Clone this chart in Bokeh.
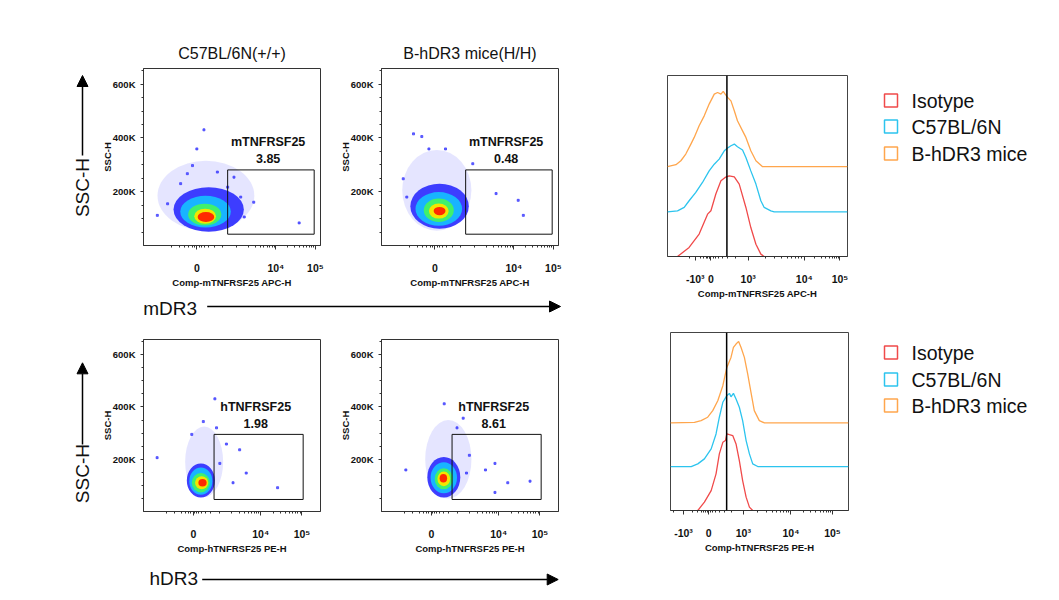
import math
from bokeh.plotting import figure
from bokeh.layouts import row, column
from bokeh.models import Range1d, FixedTicker, Arrow, NormalHead, Span
from bokeh.core.properties import value
from bokeh.embed import file_html
from bokeh.resources import INLINE

FONT = "Liberation Sans"

# ---- labels ----
strains = ["C57BL/6N(+/+)", "B-hDR3 mice(H/H)"]
markers = ["mDR3", "hDR3"]
gate_names = ["mTNFRSF25", "hTNFRSF25"]
x_channels = ["Comp-mTNFRSF25 APC-H", "Comp-hTNFRSF25 PE-H"]
gate_pct = [["3.85", "0.48"], ["1.98", "8.61"]]
groups = ["Isotype", "C57BL/6N", "B-hDR3 mice"]
group_colors = ["#f04a4a", "#2cc4ee", "#ffa64d"]

# ---- dot plot axes (SSC-H in K, x in display channels) ----
ssc_ticks = [200, 400, 600]
ssc_labels = ["200K", "400K", "600K"]
dot_ticks = [[200, 400, 500], [237, 400, 500]]
dot_tick_labels = ["0", "10⁴", "10⁵"]
dot_xrange = [[65, 513], [116, 545]]
gates = [[278, 497, 42, 281], [287, 503, 46, 295]]

# ---- population contours: centre x, centre y, width, height ----
level_colors = ["#b4b4ff", "#2a2aff", "#18b4ff", "#40f06c", "#f2e600", "#ff2a00"]
level_alpha = [0.35, 0.9, 1, 1, 1, 1]
tl_cx = [223, 230, 222, 220, 221, 223]
tl_cy = [185, 134, 126, 115, 109, 106]
tl_w = [245, 178, 128, 84, 55, 42]
tl_h = [260, 165, 118, 81, 56, 37]
tr_cx = [205, 212, 210, 210, 210, 212]
tr_cy = [205, 146, 136, 131, 128, 128]
tr_w = [175, 148, 118, 76, 50, 30]
tr_h = [300, 167, 125, 87, 56, 31]
bl_cx = [263, 255, 255, 255, 257, 259]
bl_cy = [190, 119, 116, 110, 110, 110]
bl_w = [92, 68, 56, 44, 32, 20]
bl_h = [270, 130, 104, 74, 49, 29]
br_cx = [278, 267, 267, 267, 267, 266]
br_cy = [200, 131, 129, 125, 125, 127]
br_w = [112, 80, 64, 44, 31, 18]
br_h = [300, 155, 118, 80, 56, 33]

# scattered events outside the main cloud
tl_out_x = [218, 200, 189, 176, 252, 294, 344, 320, 459, 100, 126, 278, 311, 159]
tl_out_y = [430, 359, 297, 267, 273, 254, 161, 106, 84, 112, 155, 217, 180, 230]
tr_out_x = [146, 167, 185, 227, 120, 355, 411, 424, 296, 278, 129]
tr_out_y = [415, 405, 359, 359, 248, 193, 168, 112, 304, 131, 180]
bl_out_x = [289, 261, 293, 317, 349, 149, 365, 441, 333, 301, 233]
bl_out_y = [431, 344, 320, 258, 236, 206, 147, 91, 110, 184, 295]
br_out_x = [268, 314, 299, 329, 391, 368, 422, 476, 391, 175, 322]
br_out_y = [412, 357, 320, 215, 184, 159, 110, 116, 73, 159, 147]

# ---- histograms (x in display channels, y in % of panel, offset stacked) ----
hist_ticks = [[158, 247, 459, 778, 981], [75, 220, 419, 693, 932]]
hist_tick_labels = ["-10³", "0", "10³", "10⁴", "10⁵"]
cutoff = [338, 323]
iso_m_x = [57, 123, 180, 228, 247, 275, 304, 328, 351, 380, 408, 446, 474, 503, 531, 550]
iso_m_y = [0, 5.0, 12.4, 23.4, 25.3, 34.5, 41.8, 43.7, 44.6, 44.0, 40.0, 27.1, 16.0, 6.8, 1.3, 0]
b6_m_x = [0, 57, 95, 123, 161, 199, 237, 266, 294, 323, 342, 361, 380, 398, 427, 446, 474, 503, 531, 550, 588, 607, 1024]
b6_m_y = [24.7, 25.2, 27.1, 30.8, 35.4, 40.9, 47.3, 51.0, 53.8, 58.4, 59.9, 61.2, 62.1, 60.6, 58.8, 54.7, 47.3, 40.0, 30.8, 27.1, 25.2, 24.7, 24.7]
hdr3_m_x = [0, 48, 76, 104, 133, 152, 180, 209, 237, 266, 285, 304, 317, 328, 342, 361, 380, 398, 427, 446, 474, 503, 541, 1024]
hdr3_m_y = [49.6, 50.7, 52.9, 56.6, 62.1, 65.8, 72.2, 77.7, 84.2, 89.7, 90.6, 89.7, 91.2, 89.7, 87.9, 86.0, 80.5, 75.0, 69.4, 65.8, 58.4, 52.9, 49.6, 49.6]
iso_h_x = [157, 195, 234, 262, 281, 301, 316, 324, 339, 358, 377, 396, 415, 435, 454, 473]
iso_h_y = [0, 4.7, 11.2, 20.6, 31.8, 38.3, 39.3, 43.0, 42.6, 42.1, 37.4, 28.0, 16.8, 7.5, 1.9, 0]
b6_h_x = [0, 119, 157, 195, 234, 262, 281, 301, 324, 339, 348, 362, 377, 396, 415, 435, 454, 473, 502, 1024]
b6_h_y = [24.7, 24.7, 26.2, 29.0, 34.6, 43.0, 52.4, 60.8, 64.5, 65.8, 63.9, 65.8, 62.6, 58.0, 50.5, 39.3, 31.8, 26.2, 24.7, 24.7]
hdr3_h_x = [0, 138, 176, 214, 243, 272, 301, 324, 348, 362, 377, 392, 406, 425, 444, 463, 482, 511, 540, 1024]
hdr3_h_y = [49.2, 49.5, 50.5, 52.4, 56.1, 61.7, 70.1, 80.4, 86.0, 91.6, 93.5, 95.0, 91.6, 86.0, 76.7, 66.4, 56.1, 50.5, 49.2, 49.2]


def log_minor(a, b):
    return [a + (b - a) * math.log10(k) for k in range(2, 10)]


def near_zero(neg, zero, k3):
    out = []
    for f in (0.06, 0.12, 0.2, 0.3, 0.45, 0.65):
        out += [zero - f * (zero - neg), zero + f * (k3 - zero)]
    return out


def style_axis(ax, size="9.5px"):
    ax.major_label_text_font = FONT
    ax.major_label_text_font_style = "bold"
    ax.major_label_text_font_size = size
    ax.major_label_text_color = "#111"
    ax.axis_label_text_font = FONT
    ax.axis_label_text_font_style = "bold"
    ax.axis_label_text_font_size = "9.5px"
    ax.axis_label_text_color = "#111"
    ax.major_tick_in = 0
    ax.minor_tick_in = 0
    ax.major_tick_out = 4
    ax.minor_tick_out = 2
    ax.axis_line_color = "#333"
    ax.major_tick_line_color = "#333"
    ax.minor_tick_line_color = "#333"


# blank canvas whose data units are page pixels (y measured downward, negated)
def blank(x0, x1, top, h, bt, bb):
    p = figure(width=x1 - x0, height=h, x_range=Range1d(x0, x1),
               y_range=Range1d(-(top + h - bb), -(top + bt)),
               x_axis_type=None, y_axis_type=None, output_backend="svg",
               toolbar_location=None, min_border_left=0, min_border_right=0,
               min_border_top=bt, min_border_bottom=bb)
    p.grid.visible = False
    p.outline_line_color = None
    return p


def dot_plot(r, c, w, bl, bt, bb, h, blob, out):
    p = figure(width=w, height=h, x_range=Range1d(*dot_xrange[r]), y_range=Range1d(0, 658),
               output_backend="svg", toolbar_location=None,
               min_border_left=bl, min_border_right=15, min_border_top=bt, min_border_bottom=bb)
    if r == 0:
        p.title.text = strains[c]
        p.title.align = "center"
        p.title.text_font = FONT
        p.title.text_font_style = "normal"
        p.title.text_font_size = "16px"
        p.title.text_color = "#111"
        p.title.standoff = 14
    p.grid.visible = False
    p.outline_line_color = "#333"
    cx, cy, bw, bh = blob
    p.ellipse(x=cx, y=cy, width=bw, height=bh, fill_color=level_colors,
              fill_alpha=level_alpha, line_color=None)
    p.scatter(out[0], out[1], marker="square", size=2, color="#3a3aff", alpha=0.75)
    g = gates[r]
    p.quad(left=[g[0]], right=[g[1]], bottom=[g[2]], top=[g[3]],
           fill_color=None, line_color="#111", line_width=1)
    gx = (g[0] + g[1]) / 2 - 7
    p.text(x=[gx, gx], y=[g[3] + 103, g[3] + 41], text=[gate_names[r], gate_pct[r][c]],
           text_font=value(FONT), text_font_style="bold", text_font_size="12.5px",
           text_align="center", text_baseline="middle", text_color="#111")
    zero, k4, k5 = dot_ticks[r]
    xa = p.xaxis[0]
    style_axis(xa, "10.5px")
    xa.ticker = FixedTicker(ticks=dot_ticks[r],
                            minor_ticks=near_zero(zero - 100, zero, 300) + [300]
                            + log_minor(300, k4) + log_minor(k4, k5))
    xa.major_label_overrides = dict(zip(dot_ticks[r], dot_tick_labels))
    xa.major_label_standoff = 12
    xa.axis_label = x_channels[r]
    xa.axis_label_standoff = 0
    ya = p.yaxis[0]
    style_axis(ya)
    ya.major_tick_out = 3
    ya.ticker = FixedTicker(ticks=ssc_ticks, minor_ticks=list(range(50, 658, 50)))
    ya.major_label_overrides = dict(zip(ssc_ticks, ssc_labels))
    ya.major_label_standoff = 5
    ya.axis_label = "SSC-H"
    ya.axis_label_standoff = -3
    return p


def hist_plot(r, bl, fw, br, bt, fh, bb, curves):
    p = figure(width=bl + fw + br, height=bt + fh + bb,
               x_range=Range1d(0, 1024), y_range=Range1d(0, 100),
               output_backend="svg", toolbar_location=None,
               min_border_left=bl, min_border_right=br,
               min_border_top=bt, min_border_bottom=bb)
    p.grid.visible = False
    p.yaxis.visible = False
    p.outline_line_color = "#444"
    for (xs, ys), col in zip(curves, group_colors):
        p.line(xs, ys, line_color=col, line_width=1.3)
    p.add_layout(Span(location=cutoff[r], dimension="height", line_color="black", line_width=1.5))
    neg, zero, k3, k4, k5 = hist_ticks[r]
    xa = p.xaxis[0]
    style_axis(xa, "10.5px")
    xa.ticker = FixedTicker(ticks=hist_ticks[r],
                            minor_ticks=near_zero(neg, zero, k3) + log_minor(k3, k4)
                            + log_minor(k4, k5) + [neg - 0.4 * (zero - neg)])
    xa.major_label_overrides = dict(zip(hist_ticks[r], hist_tick_labels))
    xa.major_label_standoff = 12
    xa.axis_label = x_channels[r]
    xa.axis_label_standoff = 0
    return p


def legend_fig(top, h, bt, bb, ys):
    p = blank(868, 1059, top, h, bt, bb)
    p.rect(x=[891.5] * 3, y=ys, width=13, height=13, fill_color=None,
           line_color=group_colors, line_width=1.5)
    p.text(x=[912] * 3, y=ys, text=groups, text_font=value(FONT), text_font_size="19.5px",
           text_baseline="middle", text_color="#111")
    return p


def lead_fig(top, h, bt, bb, y_text, y0, y1):
    p = blank(0, 97, top, h, bt, bb)
    p.text(x=[82], y=[y_text], text=["SSC-H"], angle=math.pi / 2, text_font=value(FONT),
           text_font_size="19px", text_align="center", text_baseline="middle", text_color="#111")
    p.add_layout(Arrow(end=NormalHead(size=11, fill_color="black", line_color="black"),
                       x_start=82, y_start=y0, x_end=82, y_end=y1,
                       line_width=1.5, line_color="black"))
    return p


def strip_fig(top, h, label, x_text, y_text, x0, x1, y_arrow):
    p = figure(width=573, height=h, x_range=Range1d(0, 573), y_range=Range1d(-(top + h), -top),
               x_axis_type=None, y_axis_type=None, output_backend="svg",
               toolbar_location=None, min_border=0)
    p.grid.visible = False
    p.outline_line_color = None
    p.text(x=[x_text], y=[y_text], text=[label], text_font=value(FONT), text_font_size="19px",
           text_baseline="middle", text_color="#111")
    p.add_layout(Arrow(end=NormalHead(size=11, fill_color="black", line_color="black"),
                       x_start=x0, y_start=y_arrow, x_end=x1, y_end=y_arrow,
                       line_width=1.5, line_color="black"))
    return p


# left block: dot plots (page coordinates, frames 68-245 and 339-516)
lead1 = lead_fig(0, 295, 68, 50, -187, -155, -75)
sc1 = dot_plot(0, 0, 238, 46, 68, 50, 295, (tl_cx, tl_cy, tl_w, tl_h), (tl_out_x, tl_out_y))
sc2 = dot_plot(0, 1, 238, 46, 68, 50, 295, (tr_cx, tr_cy, tr_w, tr_h), (tr_out_x, tr_out_y))
strip1 = strip_fig(295, 29, markers[0], 142.7, -308, 206.7, 560, -306)
lead2 = lead_fig(324, 232, 15, 40, -477, -447, -363)
sc3 = dot_plot(1, 0, 238, 46, 15, 40, 232, (bl_cx, bl_cy, bl_w, bl_h), (bl_out_x, bl_out_y))
sc4 = dot_plot(1, 1, 238, 46, 15, 40, 232, (br_cx, br_cy, br_w, br_h), (br_out_x, br_out_y))
strip2 = strip_fig(556, 34, markers[1], 149, -578, 201.7, 557.7, -579)

# right block: histograms and legends (frames 75-256 and 332-510)
h1 = hist_plot(0, 94, 180, 20, 75, 181, 45, [(iso_m_x, iso_m_y), (b6_m_x, b6_m_y), (hdr3_m_x, hdr3_m_y)])
leg1 = legend_fig(0, 301, 75, 45, [-100, -126, -153])
h2 = hist_plot(1, 97, 178, 19, 31, 178, 45, [(iso_h_x, iso_h_y), (b6_h_x, b6_h_y), (hdr3_h_x, hdr3_h_y)])
leg2 = legend_fig(301, 254, 31, 45, [-352, -379, -405])

left = column(row(lead1, sc1, sc2), strip1, row(lead2, sc3, sc4), strip2)
right = column(row(h1, leg1), row(h2, leg2))
p = row(left, right)

open("out.html", "w").write(file_html(p, INLINE))
